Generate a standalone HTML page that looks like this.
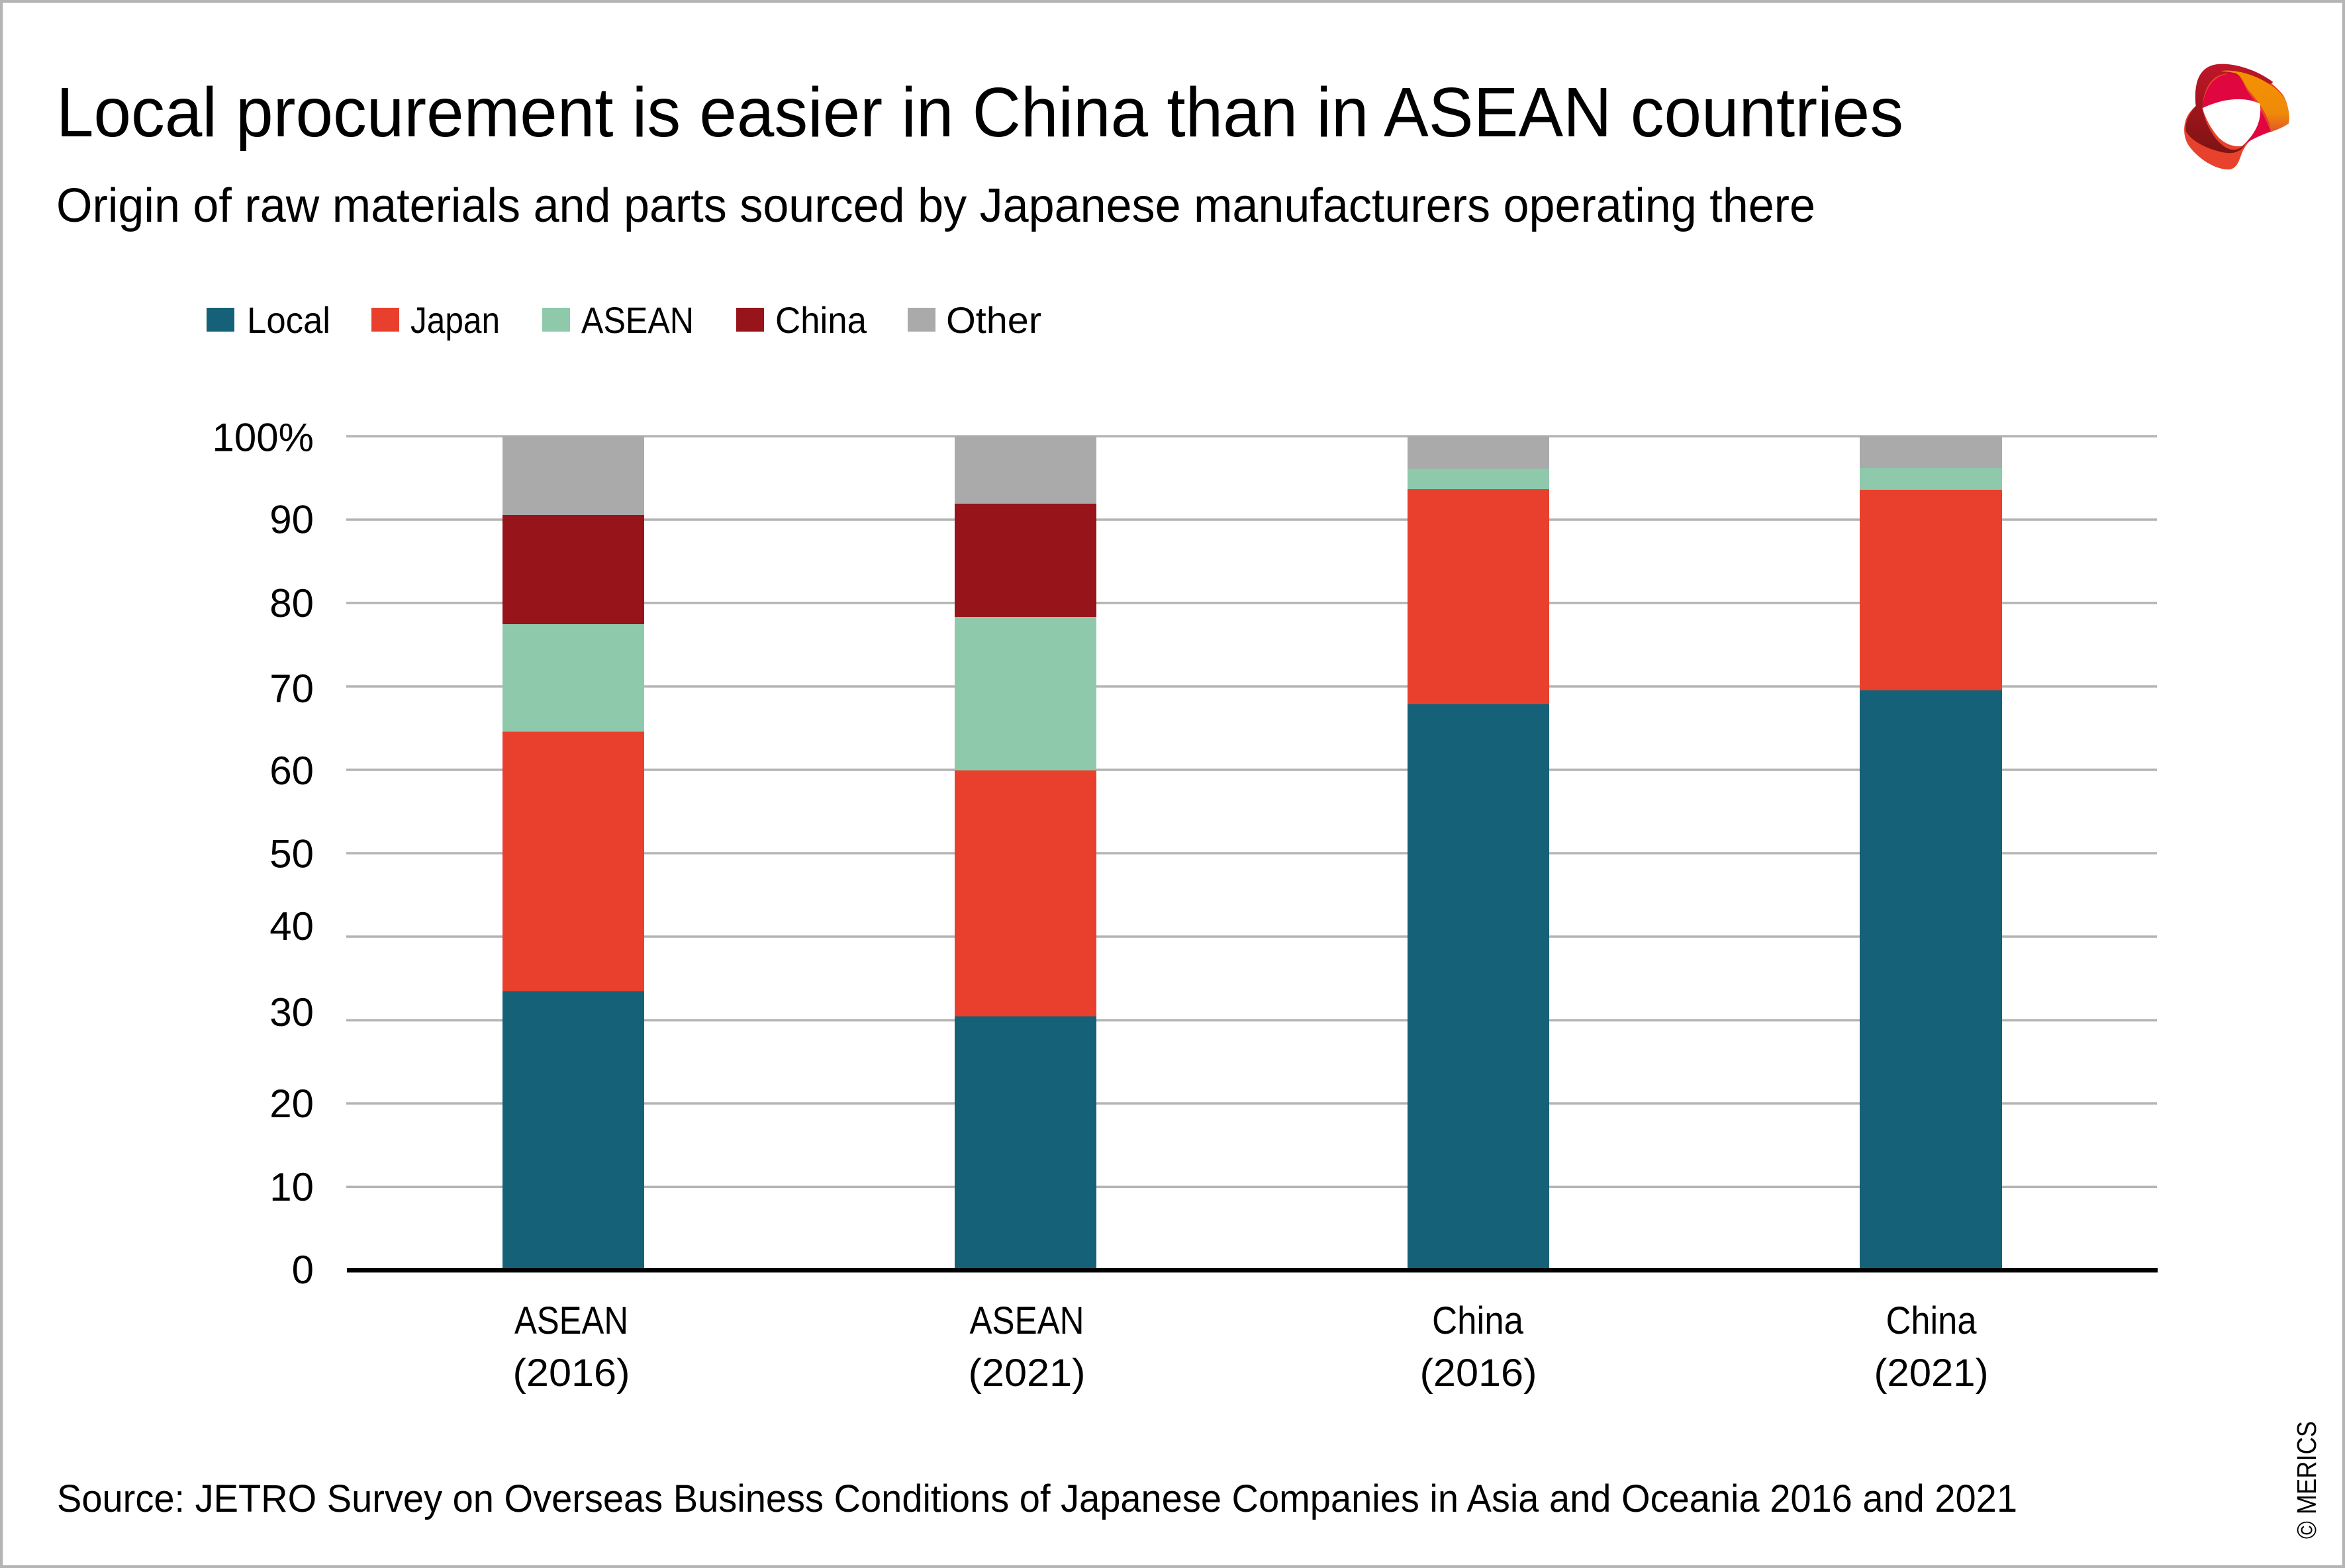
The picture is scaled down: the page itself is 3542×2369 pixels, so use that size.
<!DOCTYPE html>
<html>
<head>
<meta charset="utf-8">
<style>
  html, body { margin: 0; padding: 0; background: #fff; }
  body { width: 3542px; height: 2369px; overflow: hidden; }
  svg { display: block; }
  text { font-family: "Liberation Sans", sans-serif; fill: #000; }
</style>
</head>
<body>
<svg width="3542" height="2369" viewBox="0 0 3542 2369" xmlns="http://www.w3.org/2000/svg">
  <defs>
    <linearGradient id="dr" x1="0" y1="0" x2="0" y2="1">
      <stop offset="0" stop-color="#c0162a"/>
      <stop offset="1" stop-color="#7d1412"/>
    </linearGradient>
    <linearGradient id="org" x1="0" y1="0" x2="0" y2="1">
      <stop offset="0" stop-color="#f39200"/>
      <stop offset="0.7" stop-color="#ef8a08"/>
      <stop offset="1" stop-color="#e0552a"/>
    </linearGradient>
  </defs>
  <rect x="0" y="0" width="3542" height="2369" fill="#ffffff"/>
  <rect x="2" y="2" width="3538" height="2365" fill="none" stroke="#b4b4b4" stroke-width="4.5"/>

  <!-- Title -->
  <text x="85" y="206" font-size="106" textLength="2790" lengthAdjust="spacingAndGlyphs">Local procurement is easier in China than in ASEAN countries</text>
  <text x="85" y="335" font-size="72" textLength="2657" lengthAdjust="spacingAndGlyphs">Origin of raw materials and parts sourced by Japanese manufacturers operating there</text>

  <!-- Logo -->
  <g transform="translate(3200,0) scale(0.3333333)">
    <path d="M350,480 C340,380 362,300 450,291 C560,282 680,350 745,430 C775,480 775,540 770,560 C740,582 690,598 640,612 C600,625 580,650 560,690 C548,720 540,765 500,768 C440,770 360,720 318,660 C292,620 292,570 310,530 C322,505 340,490 350,480 Z" fill="#e8412c"/>
    <path d="M350,480 C340,380 362,300 450,291 C540,284 640,326 700,372 L640,420 C600,380 540,330 480,335 C410,345 382,420 380,490 C392,560 430,630 480,665 C520,690 550,680 575,650 C555,690 520,700 470,690 C400,675 330,640 305,595 C300,560 315,520 350,480 Z" fill="url(#dr)"/>
    <path d="M462,322 C560,308 695,368 748,440 C776,490 776,540 770,560 C745,578 712,590 690,598 L684,560 C660,490 615,440 590,410 C570,385 560,345 530,332 C510,326 485,324 462,322 Z" fill="url(#org)"/>
    <path d="M380,490 C385,420 420,345 495,336 C548,332 560,360 575,398 C598,440 645,480 690,596 C650,612 605,628 560,662 C605,610 640,560 640,470 C560,432 460,452 380,490 Z" fill="#e0063f"/>
    <path d="M380,490 C460,452 560,432 640,470 C652,545 620,608 560,662 C520,668 482,652 452,622 C420,585 395,540 380,490 Z" fill="#ffffff"/>
  </g>

  <!-- Legend -->
  <rect x="312" y="465" width="42" height="36" fill="#156178"/>
  <text x="373" y="503" font-size="56" textLength="126" lengthAdjust="spacingAndGlyphs">Local</text>
  <rect x="561" y="465" width="42" height="36" fill="#e8402c"/>
  <text x="620" y="503" font-size="56" textLength="135" lengthAdjust="spacingAndGlyphs">Japan</text>
  <rect x="819" y="465" width="42" height="36" fill="#8ec9ac"/>
  <text x="878" y="503" font-size="56" textLength="170" lengthAdjust="spacingAndGlyphs">ASEAN</text>
  <rect x="1112" y="465" width="42" height="36" fill="#96141a"/>
  <text x="1171" y="503" font-size="56" textLength="138" lengthAdjust="spacingAndGlyphs">China</text>
  <rect x="1371" y="465" width="42" height="36" fill="#aaaaaa"/>
  <text x="1429" y="503" font-size="56" textLength="144" lengthAdjust="spacingAndGlyphs">Other</text>

  <!-- Gridlines -->
  <g fill="#b4b4b4">
    <rect x="523" y="657.3" width="2735" height="3.5"/>
    <rect x="523" y="783.3" width="2735" height="3.5"/>
    <rect x="523" y="909.3" width="2735" height="3.5"/>
    <rect x="523" y="1035.3" width="2735" height="3.5"/>
    <rect x="523" y="1161.3" width="2735" height="3.5"/>
    <rect x="523" y="1287.3" width="2735" height="3.5"/>
    <rect x="523" y="1413.3" width="2735" height="3.5"/>
    <rect x="523" y="1539.8" width="2735" height="3.5"/>
    <rect x="523" y="1665.3" width="2735" height="3.5"/>
    <rect x="523" y="1791.5" width="2735" height="3.5"/>
  </g>

  <!-- Bars -->
  <!-- Bar 1 ASEAN 2016 -->
  <rect x="759" y="659" width="214" height="119" fill="#aaaaaa"/>
  <rect x="759" y="778" width="214" height="165" fill="#96141a"/>
  <rect x="759" y="943" width="214" height="162.5" fill="#8ec9ac"/>
  <rect x="759" y="1105.5" width="214" height="392" fill="#e8402c"/>
  <rect x="759" y="1497.5" width="214" height="420" fill="#156178"/>
  <!-- Bar 2 ASEAN 2021 -->
  <rect x="1442" y="659" width="214" height="102" fill="#aaaaaa"/>
  <rect x="1442" y="761" width="214" height="171" fill="#96141a"/>
  <rect x="1442" y="932" width="214" height="232" fill="#8ec9ac"/>
  <rect x="1442" y="1164" width="214" height="371.5" fill="#e8402c"/>
  <rect x="1442" y="1535.5" width="214" height="382" fill="#156178"/>
  <!-- Bar 3 China 2016 -->
  <rect x="2126" y="659" width="214" height="49" fill="#aaaaaa"/>
  <rect x="2126" y="708" width="214" height="31" fill="#8ec9ac"/>
  <rect x="2126" y="739" width="214" height="325" fill="#e8402c"/>
  <rect x="2126" y="1064" width="214" height="853.5" fill="#156178"/>
  <!-- Bar 4 China 2021 -->
  <rect x="2809" y="659" width="215" height="48" fill="#aaaaaa"/>
  <rect x="2809" y="707" width="215" height="33" fill="#8ec9ac"/>
  <rect x="2809" y="740" width="215" height="303" fill="#e8402c"/>
  <rect x="2809" y="1043" width="215" height="874.5" fill="#156178"/>

  <!-- Axis -->
  <rect x="524" y="1916" width="2735" height="6.5" fill="#000"/>

  <!-- Y labels -->
  <g font-size="60" text-anchor="end">
    <text x="474" y="681.5">100%</text>
    <text x="474" y="805.5">90</text>
    <text x="474" y="932">80</text>
    <text x="474" y="1061">70</text>
    <text x="474" y="1185">60</text>
    <text x="474" y="1310.5">50</text>
    <text x="474" y="1420">40</text>
    <text x="474" y="1550">30</text>
    <text x="474" y="1688">20</text>
    <text x="474" y="1814">10</text>
    <text x="474" y="1939">0</text>
  </g>

  <!-- X labels -->
  <g font-size="58" text-anchor="middle">
    <text x="863" y="2015" textLength="172" lengthAdjust="spacingAndGlyphs">ASEAN</text>
    <text x="863" y="2094" textLength="177" lengthAdjust="spacingAndGlyphs">(2016)</text>
    <text x="1551" y="2015" textLength="173" lengthAdjust="spacingAndGlyphs">ASEAN</text>
    <text x="1551" y="2094" textLength="177" lengthAdjust="spacingAndGlyphs">(2021)</text>
    <text x="2232" y="2015" textLength="138" lengthAdjust="spacingAndGlyphs">China</text>
    <text x="2233" y="2094" textLength="177" lengthAdjust="spacingAndGlyphs">(2016)</text>
    <text x="2917" y="2015" textLength="137" lengthAdjust="spacingAndGlyphs">China</text>
    <text x="2917" y="2094" textLength="173" lengthAdjust="spacingAndGlyphs">(2021)</text>
  </g>

  <!-- Source -->
  <text x="86" y="2284" font-size="58" textLength="2961" lengthAdjust="spacingAndGlyphs">Source: JETRO Survey on Overseas Business Conditions of Japanese Companies in Asia and Oceania 2016 and 2021</text>

  <!-- Copyright -->
  <text transform="translate(3498,2325) rotate(-90)" x="0" y="0" font-size="41" textLength="178" lengthAdjust="spacingAndGlyphs">© MERICS</text>
</svg>
</body>
</html>
